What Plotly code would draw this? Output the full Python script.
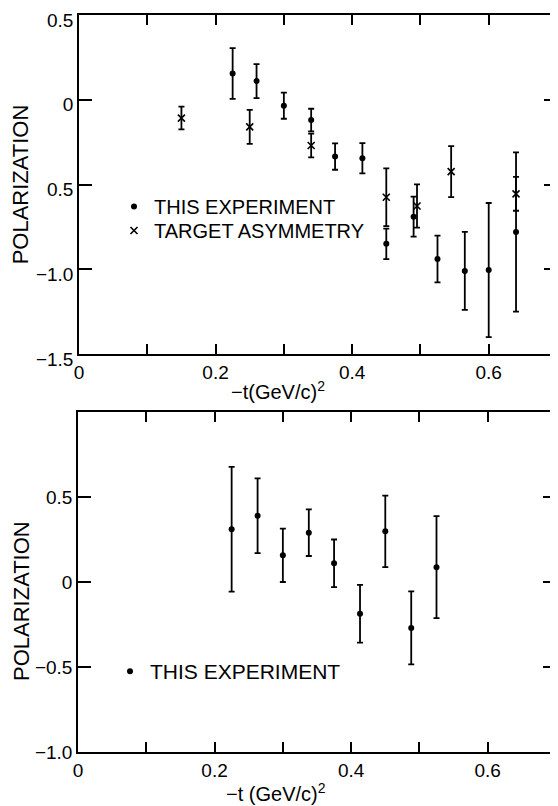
import plotly.graph_objects as go

# ---------------- data ----------------
# Top panel: this experiment
x_exp_top = [0.225, 0.26, 0.30, 0.34, 0.375, 0.415, 0.45, 0.49, 0.525, 0.565, 0.60, 0.64]
y_exp_top = [0.155, 0.11, -0.035, -0.12, -0.335, -0.345, -0.85, -0.69, -0.94, -1.01, -1.005, -0.78]
e_exp_top = [0.15, 0.10, 0.077, 0.067, 0.078, 0.089, 0.09, 0.118, 0.138, 0.23, 0.396, 0.47]

# Top panel: target asymmetry
x_ta_top = [0.15, 0.25, 0.34, 0.45, 0.495, 0.545, 0.64]
y_ta_top = [-0.108, -0.16, -0.27, -0.575, -0.627, -0.424, -0.555]
e_ta_top = [0.067, 0.10, 0.07, 0.17, 0.128, 0.15, 0.10]

# Bottom panel: this experiment
x_exp_bot = [0.225, 0.263, 0.30, 0.338, 0.375, 0.413, 0.45, 0.488, 0.525]
y_exp_bot = [0.31, 0.39, 0.157, 0.29, 0.11, -0.187, 0.298, -0.27, 0.087]
e_exp_bot = [0.367, 0.22, 0.157, 0.137, 0.14, 0.17, 0.21, 0.215, 0.30]

# ticks
x_tickvals = [0, 0.2, 0.4, 0.6]
x_ticktext = ["0", "0.2", "0.4", "0.6"]
y_top_tickvals = [0.5, 0, -0.5, -1.0, -1.5]
y_top_ticktext = ["0.5", "0", "0.5", "\u22121.0", "\u22121.5"]
y_bot_tickvals = [0.5, 0, -0.5, -1.0]
y_bot_ticktext = ["0.5", "0", "\u22120.5", "\u22121.0"]

FONT = "Liberation Sans, Arial, sans-serif"
# the page body has an 8px margin, so the figure is drawn 8px smaller
W, H = 550, 798

fig = go.Figure()

err_style = dict(type="data", color="black", thickness=1.8, width=3)

fig.add_trace(go.Scatter(
    x=x_exp_top, y=y_exp_top, mode="markers", name="THIS EXPERIMENT",
    marker=dict(symbol="circle", size=6, color="black"),
    error_y=dict(array=e_exp_top, **err_style),
    xaxis="x", yaxis="y", legend="legend"))
fig.add_trace(go.Scatter(
    x=x_ta_top, y=y_ta_top, mode="markers", name="TARGET ASYMMETRY",
    marker=dict(symbol="x-thin-open", size=7, color="black", line=dict(width=1.6, color="black")),
    error_y=dict(array=e_ta_top, **err_style),
    xaxis="x", yaxis="y", legend="legend3"))
fig.add_trace(go.Scatter(
    x=x_exp_bot, y=y_exp_bot, mode="markers", name="THIS EXPERIMENT",
    marker=dict(symbol="circle", size=6, color="black"),
    error_y=dict(array=e_exp_bot, **err_style),
    xaxis="x2", yaxis="y2", legend="legend2"))

axis_common = dict(showgrid=False, zeroline=False, showline=True, linecolor="black",
                   linewidth=1.6, mirror="ticks", ticks="inside", tickcolor="black",
                   tickwidth=1.6, automargin=False, ticklabeloverflow="allow",
                   tickfont=dict(family=FONT, size=19, color="black"))
minor_x = dict(dtick=0.1, tick0=0, ticks="inside", ticklen=10, tickcolor="black", tickwidth=1.6)

leg_common = dict(xanchor="left", yanchor="top", bgcolor="rgba(0,0,0,0)", borderwidth=0)
TITLE_FONT = dict(family=FONT, size=22, color="black")

fig.update_layout(
    width=W, height=H,
    margin=dict(l=0, r=0, t=0, b=0),
    paper_bgcolor="white", plot_bgcolor="white",
    font=dict(family=FONT, color="black"),
    xaxis=dict(domain=[71 / W, 549 / W], range=[0, 0.7], tickvals=x_tickvals,
               ticktext=x_ticktext, ticklen=10, minor=minor_x, anchor="y", **axis_common),
    yaxis=dict(domain=[1 - 346 / H, 1 - 7 / H], range=[-1.5, 0.5], tickvals=y_top_tickvals,
               ticktext=y_top_ticktext, ticklen=13, anchor="x", ticklabelshift=5,
               title=dict(text="POLARIZATION", standoff=12, font=TITLE_FONT), **axis_common),
    xaxis2=dict(domain=[70 / W, 548 / W], range=[0, 0.7], tickvals=x_tickvals,
                ticktext=x_ticktext, ticklen=10, minor=minor_x, anchor="y2", **axis_common),
    yaxis2=dict(domain=[1 - 744 / H, 1 - 404 / H], range=[-1.0, 1.0], tickvals=y_bot_tickvals,
                ticktext=y_bot_ticktext, ticklen=13, anchor="x2", **axis_common),
    legend=dict(x=106 / W, y=1 - 179 / H, font=dict(family=FONT, size=20, color="black"),
                **leg_common),
    legend3=dict(x=106 / W, y=1 - 203 / H, font=dict(family=FONT, size=20, color="black"),
                 **leg_common),
    legend2=dict(x=102 / W, y=1 - 643 / H, font=dict(family=FONT, size=21, color="black"),
                 **leg_common),
    showlegend=True,
)

annots = [
    dict(text="POLARIZATION", x=13 / W, y=1 - 593 / H, textangle=-90, size=22),
    dict(text="\u2212t(GeV/c)<sup>2</sup>", x=270 / W, y=1 - 382 / H, textangle=0, size=20),
    dict(text="\u2212t (GeV/c)<sup>2</sup>", x=268 / W, y=1 - 784 / H, textangle=0, size=20),
]
for a in annots:
    size = a.pop("size")
    fig.add_annotation(xref="paper", yref="paper", showarrow=False,
                       xanchor="center", yanchor="middle",
                       font=dict(family=FONT, size=size, color="black"), **a)

fig.write_html("out.html")
